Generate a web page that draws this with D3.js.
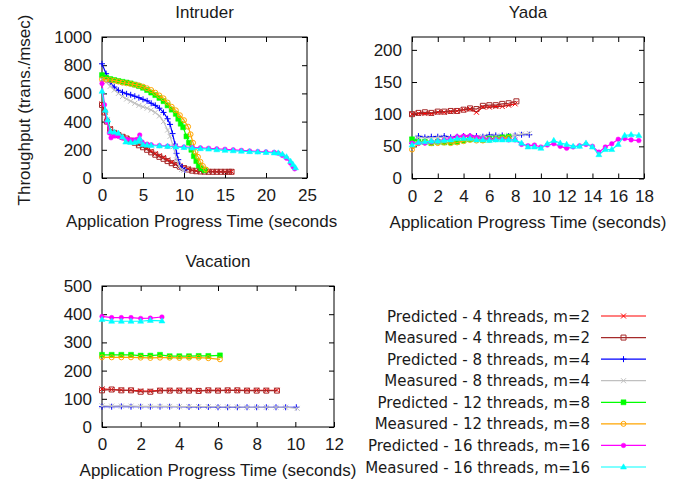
<!DOCTYPE html>
<html>
<head>
<meta charset="utf-8">
<script src="https://cdn.jsdelivr.net/npm/d3@7"></script>
<style>
  body { margin: 0; background: #fff; }
  text { font-family: "Liberation Sans", Arial, sans-serif; fill: #1a1a1a; }
</style>
</head>
<body>
<div id="chart"></div>
<script>
// legend entries, in drawing order
var seriesNames = ["Predicted - 4 threads, m=2", "Measured - 4 threads, m=2",
  "Predicted - 8 threads, m=4", "Measured - 8 threads, m=4",
  "Predicted - 12 threads, m=8", "Measured - 12 threads, m=8",
  "Predicted - 16 threads, m=16", "Measured - 16 threads, m=16"];

// ---- Intruder ----
var intruderPred4 = [[0,525],[0.3,470],[0.6,410],[1,350],[1.5,315],[2,300],[2.5,290],[3,280],[3.5,268],[4,255],[4.5,238],[5,225],[5.5,210],[6,190],[6.5,172],[7,158],[7.5,145],[8,128],[8.5,112],[9,98],[9.5,86],[10,74],[10.5,64],[11,55],[11.5,50],[12,48],[12.5,47],[13,46],[13.5,46],[14,45],[14.5,45],[15,45],[15.5,45],[15.8,45]];
var intruderMeas4 = [[0,518],[0.3,465],[0.6,400],[1,345],[1.5,320],[2,305],[2.5,292],[3,280],[3.5,265],[4,250],[4.5,232],[5,218],[5.5,200],[6,182],[6.5,165],[7,150],[7.5,136],[8,120],[8.5,105],[9,92],[9.5,80],[10,70],[10.5,60],[11,52],[11.5,48],[12,46],[12.5,45],[13,44],[13.5,44],[14,44],[14.5,44],[15,44],[15.5,44],[15.8,44]];
var intruderPred8 = [[0,810],[0.5,740],[1,680],[1.5,645],[2,622],[2.5,608],[3,597],[3.5,590],[4,580],[4.5,570],[5,558],[5.5,547],[6,530],[6.5,515],[7,495],[7.5,465],[8,420],[8.3,380],[8.6,315],[8.9,240],[9.1,175],[9.3,130],[9.5,95],[9.8,68],[10.1,57]];
var intruderMeas8 = [[0,700],[0.5,680],[1,650],[1.5,624],[2,600],[2.5,578],[3,560],[3.5,545],[4,530],[4.5,515],[5,505],[5.5,495],[6,482],[6.5,465],[7,440],[7.5,400],[8,340],[8.3,295],[8.7,222],[9.1,128],[9.4,85],[9.7,60],[10,55]];
var intruderPred12 = [[0,730],[0.5,712],[1,702],[1.5,695],[2,688],[2.5,682],[3,677],[3.5,671],[4,662],[4.5,652],[5,640],[5.5,624],[6,606],[6.5,588],[7,568],[7.5,545],[8,515],[8.5,485],[9,455],[9.3,420],[9.6,385],[9.9,360],[10.3,295],[10.6,250],[10.9,200],[11.2,155],[11.5,120],[11.8,88],[12.1,68],[12.5,55]];
var intruderMeas12 = [[0,700],[0.5,698],[1,695],[1.5,690],[2,684],[2.5,676],[3,672],[3.5,667],[4,662],[4.5,657],[5,648],[5.5,636],[6,624],[6.5,605],[7,585],[7.5,565],[8,535],[8.5,505],[9,480],[9.5,445],[10,410],[10.5,364],[10.8,310],[11.1,250],[11.4,185],[11.7,150],[12,115],[12.3,85],[12.7,60]];
var intruderPred16 = [[0,670],[0.3,520],[0.6,400],[0.9,320],[1.1,285],[1.5,298],[2,295],[2.5,283],[3,274],[3.5,270],[4,270],[4.3,275],[4.6,305],[4.9,255],[5.5,240],[6,236],[7,230],[8,226],[9,223],[10,220],[11,217],[12,214],[13,211],[14,207],[15,204],[16,200],[17,196],[18,192],[19,188],[20,185],[21,182],[21.5,176],[22,160],[22.5,140],[23,105],[23.3,80],[23.5,65]];
var intruderMeas16 = [[0,615],[0.4,480],[0.7,411],[1.05,330],[1.5,325],[2,317],[2.5,290],[2.9,255],[3.5,252],[4,253],[4.4,258],[4.6,280],[5,236],[5.5,233],[6,230],[7,227],[8,224],[9,220],[10,216],[11,212],[12,208],[13,205],[14,200],[15,196],[16,193],[17,190],[18,187],[19,184],[20,181],[21,178],[21.5,177],[22,168],[22.5,150],[23,118],[23.3,95],[23.6,72]];

// ---- Yada ----
var yadaPred4 = [[0,100],[0.5,101],[1,101],[1.5,101],[2,103],[2.5,103],[3,104],[3.5,105],[4,107],[4.5,108],[5,103],[5.5,111],[6,111],[6.5,112],[7,112],[7.5,114],[8,116]];
var yadaMeas4 = [[0,100],[0.5,102],[1,103],[1.5,102],[2,104],[2.5,104],[3,105],[3.5,105],[4,107],[4.5,109],[5,108],[5.5,113],[6,114],[6.5,114],[7,116],[7.5,117],[8.1,120]];
var yadaPred8 = [[0,55],[0.5,66],[1,64],[1.5,65],[2,65],[2.5,66],[3,64],[3.5,65],[4,66],[4.5,66],[5,66],[5.5,65],[6,68],[6.5,67],[7,67],[7.5,66],[8,67],[8.5,68],[9.1,68]];
var yadaMeas8 = [[0,60],[0.5,64],[1,63],[1.5,63],[2,64],[2.5,64],[3,63],[3.5,64],[4,64],[4.5,65],[5,64],[5.5,65],[6,66],[6.5,66],[7,66],[7.5,67],[8,67],[8.5,69],[9.1,70]];
var yadaPred12 = [[0,61],[0.5,57],[1,57],[1.5,55],[2,57],[2.5,56],[3,56],[3.5,57],[4,59],[4.5,61],[5,61],[5.5,60],[6,62],[6.5,62],[7,64],[7.5,65]];
var yadaMeas12 = [[0,45],[0.5,55],[1,56],[1.5,55],[2,55],[2.5,56],[3,55],[3.5,56],[4,58],[4.5,60],[5,59],[5.5,59],[6,60],[6.5,61],[7,62],[7.5,63]];
var yadaPred16 = [[0,55],[0.5,55],[1,55],[1.5,57],[2,58],[2.5,60],[3,62],[3.5,65],[4,66],[4.5,66],[5,64],[5.5,62],[6,61],[6.5,61],[7,61],[7.5,60],[8,60],[8.5,53],[9,51],[9.5,52],[10,49],[10.5,52],[11,54],[11.5,50],[12,47],[12.5,49],[13,51],[13.5,53],[14,50],[14.5,41],[15,49],[15.5,54],[16,61],[16.5,62],[17,60],[17.6,59]];
var yadaMeas16 = [[0,52],[0.5,56],[1,57],[1.5,58],[2,58],[2.5,59],[3,60],[3.5,62],[4,62],[4.5,62],[5,60],[5.5,60],[6,59],[6.5,60],[7,60],[7.5,60],[8,60],[8.5,55],[9,49],[9.5,49],[10,47],[10.5,54],[11,59],[11.5,55],[12,53],[12.5,50],[13,50],[13.5,55],[14,49],[14.5,37],[15,45],[15.5,45],[16,53],[16.5,67],[17,68],[17.6,67]];

// ---- Vacation ----
var vacationPred4 = [[0,135],[0.5,133],[1,131],[1.5,130],[2,128],[2.5,127],[3,130],[3.5,130],[4,130],[4.5,130],[5,129],[5.5,130],[6,130],[6.5,130],[7,130],[7.5,130],[8,130],[8.5,130],[9.05,130]];
var vacationMeas4 = [[0,130],[0.5,133],[1,130],[1.5,130],[2,125],[2.5,125],[3,129],[3.5,129],[4,129],[4.5,129],[5,128],[5.5,130],[6,129],[6.5,130],[7,130],[7.5,129],[8,129],[8.5,129],[9.05,129]];
var vacationPred8 = [[0,72],[0.5,72],[1,73],[1.5,72],[2,72],[2.5,72],[3,72],[3.5,72],[4,72],[4.5,71],[5,71],[5.5,71],[6,70],[6.5,70],[7,70],[7.5,70],[8,70],[8.5,70],[9,70],[9.5,70],[10.05,70]];
var vacationMeas8 = [[0,75],[0.5,74],[1,74],[1.5,74],[2,73],[2.5,73],[3,73],[3.5,73],[4,72],[4.5,72],[5,72],[5.5,72],[6,71],[6.5,71],[7,71],[7.5,70],[8,70],[8.5,70],[9,70],[9.5,70],[10.1,66]];
var vacationPred12 = [[0,256],[0.5,256],[1,256],[1.5,256],[2,253],[2.5,253],[3,256],[3.5,251],[4,251],[4.5,251],[5,252],[5.5,252],[6.1,254]];
var vacationMeas12 = [[0,247],[0.5,247],[1,247],[1.5,247],[2,246],[2.5,245],[3,246],[3.5,246],[4,245],[4.5,246],[5,246],[5.5,244],[6.1,240]];
var vacationPred16 = [[0,392],[0.5,388],[1,388],[1.5,388],[2,385],[2.5,386],[3.1,390]];
var vacationMeas16 = [[0,381],[0.5,375],[1,375],[1.5,375],[2,375],[2.5,378],[3.1,376]];

// axis ticks
var intruderXTicks = [0, 5, 10, 15, 20, 25];
var intruderYTicks = [0, 200, 400, 600, 800, 1000];
var yadaXTicks = [0, 2, 4, 6, 8, 10, 12, 14, 16, 18];
var yadaYTicks = [0, 50, 100, 150, 200];
var vacationXTicks = [0, 2, 4, 6, 8, 10, 12];
var vacationYTicks = [0, 100, 200, 300, 400, 500];

// styles per series
var colors = ["#ff0000", "#a52a2a", "#0000ff", "#c0c0c0", "#00ff00", "#ffa500", "#ff00ff", "#00ffff"];
var markers = ["x", "sqOpen", "plus", "x", "sq", "circOpen", "circ", "tri"];

var W = 689, H = 485;
var svg = d3.select("#chart").append("svg")
  .attr("width", W).attr("height", H);

// the Intruder x label runs into the Yada panel and gets cut
svg.append("defs").append("clipPath").attr("id", "clipIntruder")
  .append("rect").attr("x", 0).attr("y", 0).attr("width", 337).attr("height", 240);

function markerPath(type) {
  var p = d3.path();
  if (type == "x") {
    p.moveTo(-2.5,-2.5); p.lineTo(2.5,2.5); p.moveTo(-2.5,2.5); p.lineTo(2.5,-2.5);
  } else if (type == "plus") {
    p.moveTo(-3,0); p.lineTo(3,0); p.moveTo(0,-3); p.lineTo(0,3);
  } else if (type == "sq" || type == "sqOpen") {
    p.rect(-2.5,-2.5,5,5);
  } else if (type == "circ" || type == "circOpen") {
    p.arc(0,0,type == "circ" ? 2.3 : 2.5,0,2*Math.PI);
  } else if (type == "tri") {
    p.moveTo(0,-3.2); p.lineTo(3,2); p.lineTo(-3,2); p.closePath();
  }
  return p.toString();
}

function drawMarker(g, type, color) {
  var filled = (type == "sq" || type == "circ" || type == "tri");
  g.append("path")
    .attr("d", markerPath(type))
    .attr("fill", filled ? color : "none")
    .attr("stroke", color)
    .attr("stroke-width", filled ? 0.5 : 1);
}

function drawPanel(cfg) {
  var x = d3.scaleLinear().domain(cfg.xDomain).range([cfg.left, cfg.right]);
  var y = d3.scaleLinear().domain(cfg.yDomain).range([cfg.bottom, cfg.top]);
  var g = svg.append("g");
  var fmt = d3.format("d");

  // title
  g.append("text")
    .attr("x", (cfg.left + cfg.right) / 2).attr("y", cfg.top - 19)
    .attr("text-anchor", "middle").style("font-size", "17px")
    .text(cfg.title);

  // axes, ticks point inwards like gnuplot
  var ax = g.append("g").attr("class", "axes");
  ax.append("g").attr("transform", "translate(" + cfg.left + ",0)")
    .call(d3.axisLeft(y).tickValues(cfg.yTicks).tickFormat(fmt).tickSize(-5).tickSizeOuter(0).tickPadding(10));
  ax.append("g").attr("transform", "translate(" + cfg.right + ",0)")
    .call(d3.axisRight(y).tickValues(cfg.yTicks).tickSize(-5).tickSizeOuter(0).tickFormat(""));
  ax.append("g").attr("transform", "translate(0," + cfg.bottom + ")")
    .call(d3.axisBottom(x).tickValues(cfg.xTicks).tickFormat(fmt).tickSize(-5).tickSizeOuter(0).tickPadding(11));
  ax.append("g").attr("transform", "translate(0," + cfg.top + ")")
    .call(d3.axisTop(x).tickValues(cfg.xTicks).tickSize(-5).tickSizeOuter(0).tickFormat(""));
  ax.selectAll(".domain").remove();
  ax.selectAll(".tick line").attr("stroke", "#000");
  ax.selectAll(".tick text").style("font-size", "17px")
    .style("font-family", "'Liberation Sans', Arial, sans-serif").attr("fill", "#1a1a1a");

  g.append("rect")
    .attr("x", cfg.left).attr("y", cfg.top)
    .attr("width", cfg.right - cfg.left).attr("height", cfg.bottom - cfg.top)
    .attr("fill", "none").attr("stroke", "#000").attr("stroke-width", 1);

  // x label
  var xl = g.append("text")
    .attr("x", (cfg.left + cfg.right) / 2).attr("y", cfg.bottom + 49)
    .attr("text-anchor", "middle").style("font-size", "17px")
    .text("Application Progress Time (seconds)");
  if (cfg.clip) xl.attr("clip-path", "url(#" + cfg.clip + ")");

  var line = d3.line().x(d => x(d[0])).y(d => y(d[1]));
  cfg.series.forEach(function(data, i) {
    var sg = g.append("g");
    sg.append("path").datum(data)
      .attr("d", line)
      .attr("fill", "none")
      .attr("stroke", colors[i])
      .attr("stroke-width", 1.2);
    sg.selectAll("g.pt").data(data).enter().append("g")
      .attr("class", "pt")
      .attr("transform", d => "translate(" + x(d[0]) + "," + y(d[1]) + ")")
      .each(function() { drawMarker(d3.select(this), markers[i], colors[i]); });
  });
}

drawPanel({
  title: "Intruder", left: 102, right: 307, top: 37, bottom: 178,
  xDomain: [0, 25], yDomain: [0, 1000], xTicks: intruderXTicks, yTicks: intruderYTicks,
  clip: "clipIntruder",
  series: [intruderPred4, intruderMeas4, intruderPred8, intruderMeas8,
           intruderPred12, intruderMeas12, intruderPred16, intruderMeas16]
});
drawPanel({
  title: "Yada", left: 412, right: 644, top: 37, bottom: 178.5,
  xDomain: [0, 18], yDomain: [0, 220], xTicks: yadaXTicks, yTicks: yadaYTicks,
  series: [yadaPred4, yadaMeas4, yadaPred8, yadaMeas8,
           yadaPred12, yadaMeas12, yadaPred16, yadaMeas16]
});
drawPanel({
  title: "Vacation", left: 102, right: 334, top: 286, bottom: 427,
  xDomain: [0, 12], yDomain: [0, 500], xTicks: vacationXTicks, yTicks: vacationYTicks,
  series: [vacationPred4, vacationMeas4, vacationPred8, vacationMeas8,
           vacationPred12, vacationMeas12, vacationPred16, vacationMeas16]
});

// y axis label (shared, left of Intruder)
svg.append("text")
  .attr("transform", "translate(30,110) rotate(-90)")
  .attr("text-anchor", "middle").style("font-size", "17px")
  .text("Throughput (trans./msec)");

// legend
var legendY = d3.scaleLinear().domain([0, 7]).range([316, 467]);
var legend = svg.append("g");
seriesNames.forEach(function(name, i) {
  var yy = legendY(i);
  legend.append("text")
    .attr("x", 590).attr("y", yy + 5.5)
    .attr("text-anchor", "end")
    .style("font-family", "'DejaVu Sans', sans-serif").style("font-size", "15px")
    .text(name);
  legend.append("line")
    .attr("x1", 601).attr("x2", 646).attr("y1", yy).attr("y2", yy)
    .attr("stroke", colors[i]).attr("stroke-width", 1.2);
  var mg = legend.append("g").attr("transform", "translate(623.5," + yy + ")");
  drawMarker(mg, markers[i], colors[i]);
});
</script>
</body>
</html>
